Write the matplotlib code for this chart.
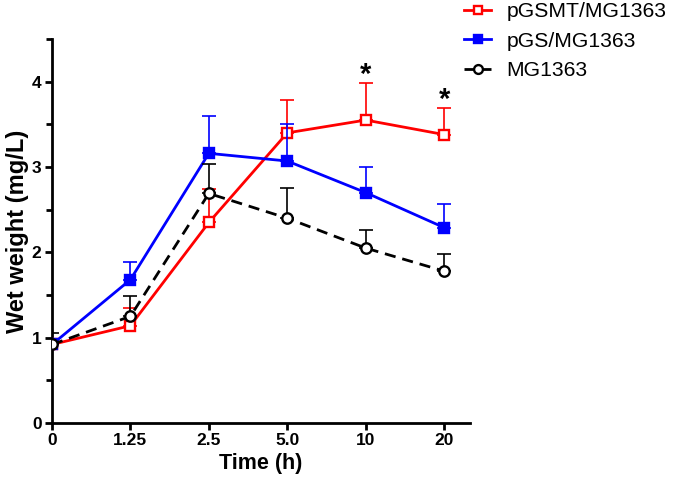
import matplotlib
matplotlib.use("Agg")
import matplotlib.pyplot as plt
import numpy as np

plt.rcParams['font.family'] = ['Liberation Sans', 'DejaVu Sans']

time_labels = ["0", "1.25", "2.5", "5.0", "10", "20"]

pgsmt_mean = [0.92, 1.14, 2.35, 3.40, 3.55, 3.38]
pgsmt_err = [0.05, 0.21, 0.39, 0.38, 0.43, 0.31]

pgs_mean = [0.92, 1.68, 3.16, 3.07, 2.70, 2.29]
pgs_err = [0.05, 0.21, 0.44, 0.43, 0.30, 0.28]

mg_mean = [0.92, 1.25, 2.69, 2.40, 2.05, 1.78]
mg_err = [0.13, 0.24, 0.35, 0.35, 0.21, 0.20]

star_labels = ["*", "*"]
star_index = [4, 5]
star_y = [4.08, 3.79]

fig = plt.figure(figsize=(6.75, 4.9), dpi=100)
ax = fig.add_axes([52/675, 1-423/490, (470-52)/675, (423-39)/490])

x = np.arange(len(time_labels))

def series(mean, err, color, marker, mfc, ls, label, z):
    ax.errorbar(x, mean, yerr=[np.zeros(len(err)), err], color=color, ecolor=color,
                elinewidth=1.2, capsize=5, capthick=1.2, fmt='none', zorder=z)
    ax.plot(x, mean, color=color, lw=2, ls=ls, marker=marker, ms=7.5,
            mfc=mfc, mec=color, mew=1.7, label=label, zorder=z + 0.5,
            dashes=(4, 2.5) if ls == '--' else (None, None))

series(pgsmt_mean, pgsmt_err, '#ff0000', 's', 'white', '-', 'pGSMT/MG1363', 3)
series(pgs_mean, pgs_err, '#0000ff', 's', '#0000ff', '-', 'pGS/MG1363', 4)
series(mg_mean, mg_err, 'black', 'o', 'white', '--', 'MG1363', 5)

for s, i, yy in zip(star_labels, star_index, star_y):
    ax.text(x[i], yy, s, ha='center', va='center', fontsize=21, fontweight='bold')

ax.set_xlim(0, 5.33)
ax.set_ylim(0, 4.5)
ax.set_xticks(x)
ax.set_xticklabels(time_labels)
ax.set_yticks([0, 1, 2, 3, 4])
ax.set_yticks([0.5, 1.5, 2.5, 3.5, 4.5], minor=True)
for s in ['top', 'right']:
    ax.spines[s].set_visible(False)
for s in ['left', 'bottom']:
    ax.spines[s].set_linewidth(2)
ax.tick_params(axis='both', which='major', width=2, length=5, labelsize=12.5,
               direction='out', pad=2.5)
ax.tick_params(axis='y', which='minor', width=2, length=4)
for lab in ax.get_xticklabels() + ax.get_yticklabels():
    lab.set_fontweight('bold')

ax.set_xlabel('Time (h)', fontsize=15.5, fontweight='bold', labelpad=3)
ax.set_ylabel('Wet weight (mg/L)', fontsize=17, fontweight='bold', labelpad=2)

leg = ax.legend(loc='upper left', bbox_to_anchor=(464/675, 1 - 2/490), bbox_transform=fig.transFigure,
                frameon=False, fontsize=15.2, handlelength=1.3, handletextpad=0.7,
                labelspacing=0.5, borderpad=0, borderaxespad=0, markerscale=0.85)

fig.savefig('out.png', dpi=100)
